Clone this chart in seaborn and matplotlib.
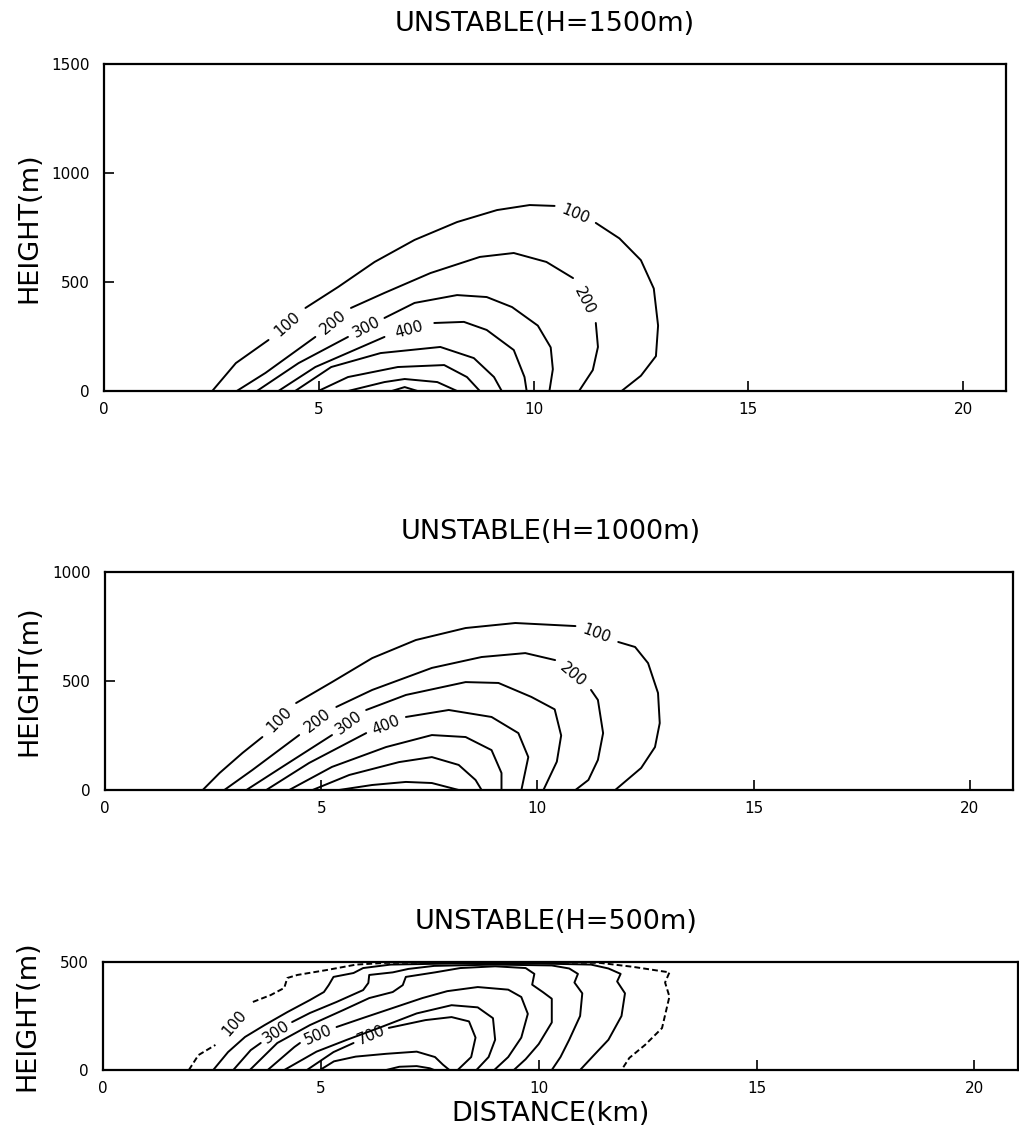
import matplotlib
matplotlib.use("Agg")
import numpy as np
import pandas as pd
import matplotlib.pyplot as plt
import seaborn as sns

sns.set_theme(style="white")
plt.rcParams["font.family"] = ["DejaVu Sans"]

# ---------------- data ----------------
TITLES = ["UNSTABLE(H=1500m)", "UNSTABLE(H=1000m)", "UNSTABLE(H=500m)"]
X_TICKS = [0, 5, 10, 15, 20]
Y_TICKS = [[0, 500, 1000, 1500], [0, 500, 1000], [0, 500]]
Y_MAX = [1500, 1000, 500]
X_LABEL = "DISTANCE(km)"
Y_LABEL = "HEIGHT(m)"

# Panel 1 (H=1500m): contour lines, distance (km) / height (m)
P1_LEVELS = [100, 200, 300, 400, 500, 600, 700, 800]
P1_X = [
    [2.52, 3.07, 3.83, 4.69, 5.45, 6.30, 7.23, 8.22, 9.15, 9.91, 10.49, 11.45, 12.0, 12.5, 12.8, 12.9, 12.85, 12.5, 12.05],
    [3.09, 3.76, 4.92, 5.75, 6.53, 7.6, 8.75, 9.54, 10.3, 10.92, 11.45, 11.5, 11.38, 11.06],
    [3.56, 4.53, 5.68, 6.53, 7.23, 8.22, 8.91, 9.5, 10.1, 10.4, 10.45, 10.37],
    [4.06, 4.92, 6.53, 7.69, 8.38, 8.91, 9.54, 9.79, 9.84],
    [4.45, 5.29, 6.44, 7.83, 8.61, 9.08, 9.26],
    [4.99, 5.68, 6.84, 7.92, 8.45, 8.75],
    [5.68, 6.53, 7.0, 7.76, 8.22],
    [6.7, 7.0, 7.3],
]
P1_Z = [
    [0, 128, 234, 381, 477, 592, 693, 775, 830, 853, 849, 771, 700, 600, 470, 300, 160, 70, 0],
    [0, 83, 248, 381, 450, 541, 615, 633, 592, 518, 312, 202, 96, 0],
    [0, 128, 248, 335, 404, 440, 431, 385, 300, 200, 100, 0],
    [0, 110, 248, 312, 317, 280, 188, 64, 0],
    [0, 110, 174, 202, 151, 64, 0],
    [0, 64, 110, 119, 64, 0],
    [0, 41, 55, 41, 0],
    [0, 18, 0],
]
P1_GAPS = [[2, 10], [2, 9], [2], [2], [], [], [], []]

# Panel 2 (H=1000m)
P2_LEVELS = [100, 200, 300, 400, 500, 600, 700]
P2_X = [
    [2.26, 2.65, 3.18, 3.64, 4.42, 5.25, 6.18, 7.19, 8.34, 9.49, 10.88, 11.87, 12.26, 12.56, 12.79, 12.83, 12.72, 12.4, 11.8],
    [2.76, 3.41, 4.49, 5.35, 6.18, 7.56, 8.71, 9.72, 10.41, 11.24, 11.4, 11.52, 11.4, 11.18, 10.88],
    [3.27, 4.1, 5.25, 6.04, 6.96, 8.34, 9.1, 9.86, 10.4, 10.55, 10.45, 10.14],
    [3.73, 4.72, 6.04, 6.96, 7.95, 8.94, 9.56, 9.79, 9.63],
    [4.26, 5.25, 6.5, 7.56, 8.34, 8.94, 9.17, 9.17],
    [4.8, 5.65, 6.8, 7.56, 8.18, 8.57, 8.71],
    [5.41, 6.18, 6.96, 7.56, 8.18],
]
P2_Z = [
    [0, 78, 170, 243, 399, 495, 605, 688, 743, 766, 752, 679, 656, 582, 445, 307, 197, 101, 0],
    [0, 92, 252, 381, 459, 560, 610, 628, 596, 459, 413, 261, 138, 46, 0],
    [0, 106, 252, 367, 436, 495, 491, 427, 370, 250, 130, 0],
    [0, 124, 261, 335, 367, 335, 261, 151, 0],
    [0, 106, 197, 252, 243, 183, 78, 0],
    [0, 69, 128, 151, 115, 46, 0],
    [0, 23, 37, 32, 0],
]
P2_GAPS = [[3, 10], [2, 8], [2], [2], [], [], []]

# Panel 3 (H=500m)
P3_LEVELS = [100, 200, 300, 400, 500, 600, 700, 800, 900]
P3_X = [
    [1.97, 2.19, 2.58, 3.44, 3.85, 4.16, 4.23, 4.46, 5.14, 5.81, 6.5, 8.0, 10.0, 11.4, 12.15, 13.0, 12.9, 13.0, 12.83, 12.44, 12.08, 11.9],
    [2.53, 2.87, 3.26, 3.71, 4.23, 4.75, 5.07, 5.18, 5.29, 5.75, 5.97, 6.6, 8.0, 10.0, 11.2, 11.6, 11.88, 11.8, 11.98, 11.9, 11.6, 11.25, 10.95],
    [2.99, 3.39, 3.62, 4.34, 4.75, 5.36, 5.97, 6.09, 6.11, 6.65, 7.01, 7.6, 9.0, 10.3, 10.7, 10.9, 10.82, 11.0, 10.95, 10.7, 10.5, 10.3],
    [3.37, 4.0, 4.75, 5.52, 6.11, 6.65, 6.88, 6.95, 7.62, 8.2, 9.0, 9.7, 9.9, 9.85, 10.1, 10.3, 10.3, 10.0, 9.7, 9.43],
    [3.78, 4.39, 4.52, 5.36, 5.97, 6.65, 7.33, 7.9, 8.6, 9.3, 9.6, 9.75, 9.6, 9.3, 8.98],
    [4.16, 4.9, 5.6, 6.4, 7.2, 8.0, 8.6, 8.95, 9.0, 8.85, 8.57],
    [4.68, 5.29, 5.75, 6.56, 7.4, 8.0, 8.4, 8.55, 8.45, 8.14],
    [4.98, 5.3, 5.8, 6.5, 7.2, 7.62, 7.8, 7.95],
    [6.5, 6.8, 7.2, 7.5, 7.6],
]
P3_Z = [
    [0, 69, 116, 315, 347, 380, 426, 440, 463, 488, 496, 498, 498, 496, 478, 452, 405, 340, 194, 116, 56, 0],
    [0, 83, 153, 208, 268, 324, 361, 393, 431, 449, 472, 488, 493, 493, 488, 470, 445, 410, 355, 250, 140, 65, 0],
    [0, 92, 125, 222, 264, 315, 370, 403, 440, 452, 468, 482, 488, 484, 470, 445, 405, 355, 250, 140, 60, 0],
    [0, 125, 208, 278, 333, 361, 393, 431, 452, 472, 480, 472, 445, 395, 360, 330, 220, 120, 50, 0],
    [0, 106, 125, 199, 241, 287, 333, 365, 384, 372, 338, 260, 150, 60, 0],
    [0, 85, 140, 200, 262, 300, 290, 240, 140, 60, 0],
    [0, 83, 125, 195, 231, 245, 225, 150, 60, 0],
    [0, 40, 62, 75, 85, 60, 25, 0],
    [0, 15, 18, 8, 0],
]
P3_GAPS = [[2], [], [2], [], [2], [], [2], [], []]
P3_DASHED = [100]

# ---------------- figure ----------------
W, H = 1019, 1130
fig = plt.figure(figsize=(W / 100, H / 100), dpi=100)
fig.patch.set_facecolor("white")

boxes = [(104, 64, 1006, 391), (105, 572, 1013, 790), (103, 962, 1018, 1070)]
title_x = [0.489, 0.491, 0.495]
axes = []
for (l, t, r, b) in boxes:
    ax = fig.add_axes([l / W, 1 - b / H, (r - l) / W, (b - t) / H])
    axes.append(ax)

panels = [
    (P1_LEVELS, P1_X, P1_Z, P1_GAPS, []),
    (P2_LEVELS, P2_X, P2_Z, P2_GAPS, []),
    (P3_LEVELS, P3_X, P3_Z, P3_GAPS, P3_DASHED),
]

LW = 1.4
for k, (ax, (levels, xs, zs, gaps, dashed)) in enumerate(zip(axes, panels)):
    ax.set_xlim(0, 21)
    ax.set_ylim(0, Y_MAX[k])
    ax.set_facecolor("white")
    for lev, x, z, g in zip(levels, xs, zs, gaps):
        ls = (0, (3.0, 1.6)) if lev in dashed else "-"
        starts = [0] + [i + 1 for i in g]
        ends = [i for i in g] + [len(x) - 1]
        for s, e in zip(starts, ends):
            if e - s < 1:
                continue
            df = pd.DataFrame({"x": x[s:e + 1], "z": z[s:e + 1]})
            sns.lineplot(data=df, x="x", y="z", sort=False, estimator=None,
                         color="black", lw=LW, linestyle=ls, ax=ax, legend=False,
                         solid_joinstyle="round")
        for i in g:
            p0 = ax.transData.transform((x[i], z[i]))
            p1 = ax.transData.transform((x[i + 1], z[i + 1]))
            ang = np.degrees(np.arctan2(p1[1] - p0[1], p1[0] - p0[0]))
            if ang > 90:
                ang -= 180
            if ang < -90:
                ang += 180
            ax.text((x[i] + x[i + 1]) / 2, (z[i] + z[i + 1]) / 2, str(lev),
                    rotation=ang, rotation_mode="anchor", ha="center", va="center",
                    fontsize=11, color="black")

    ax.set_xticks(X_TICKS)
    ax.set_xticklabels([str(v) for v in X_TICKS])
    ax.set_yticks(Y_TICKS[k])
    ax.set_yticklabels([str(v) for v in Y_TICKS[k]])
    ax.tick_params(axis="both", direction="in", length=7, width=1.2, colors="black",
                   bottom=True, left=True, top=False, right=False, labelsize=11)
    ax.tick_params(axis="x", pad=8)
    ax.tick_params(axis="y", pad=10)
    for sp in ax.spines.values():
        sp.set_visible(True)
        sp.set_color("black")
        sp.set_linewidth(1.6)
    ax.set_xlabel("")
    ax.set_ylabel(Y_LABEL, fontsize=19.5, color="black", ha="center", va="center")
    ax.yaxis.set_label_coords(-0.083, 0.5)
    ax.set_title(TITLES[k], fontsize=19.5, color="black", pad=24, x=title_x[k])

axes[2].set_xlabel(X_LABEL, fontsize=19.5, color="black", ha="center", va="center")
axes[2].xaxis.set_label_coords(0.489, -0.41)

fig.savefig("out.png", dpi=100, facecolor="white")
